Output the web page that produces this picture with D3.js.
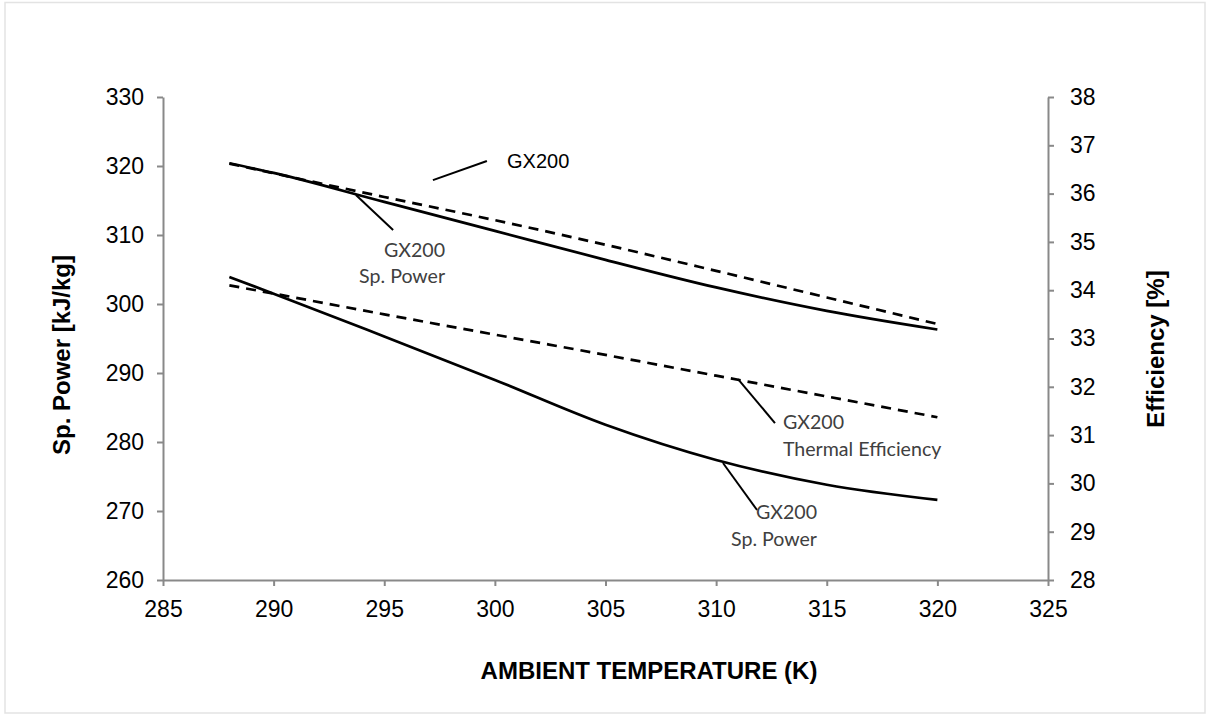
<!DOCTYPE html>
<html>
<head>
<meta charset="utf-8">
<script src="https://cdn.jsdelivr.net/npm/d3@7"></script>
<style>
  html, body { margin: 0; padding: 0; background: #ffffff; }
  svg { display: block; }
</style>
</head>
<body>
<svg id="chart" width="1208" height="716"></svg>
<script>
// Ambient temperature sweep (K)
const temps = [288, 290, 295, 300, 305, 310, 315, 320];

// Specific power [kJ/kg] (left axis) and efficiency [%] (right axis)
const spPowerUpper = [320.4, 319.0, 314.8, 310.6, 306.4, 302.4, 299.0, 296.3];
const effUpper     = [36.62, 36.42, 35.93, 35.45, 34.94, 34.40, 33.85, 33.30];
const spPowerLower = [303.9, 301.5, 295.3, 289.0, 282.5, 277.4, 273.8, 271.6];
const effLower     = [34.10, 33.93, 33.50, 33.08, 32.66, 32.23, 31.80, 31.37];

// Axis ticks
const xTicks = [285, 290, 295, 300, 305, 310, 315, 320, 325];
const leftTicks = [260, 270, 280, 290, 300, 310, 320, 330];
const rightTicks = [28, 29, 30, 31, 32, 33, 34, 35, 36, 37, 38];

// Axis titles
const xTitle = "AMBIENT TEMPERATURE (K)";
const leftTitle = "Sp. Power [kJ/kg]";
const rightTitle = "Efficiency [%]";

const svg = d3.select("#chart");

// outer frame
svg.append("rect")
  .attr("x", 5).attr("y", 2.5).attr("width", 1200).attr("height", 710.5)
  .attr("fill", "#ffffff").attr("stroke", "#e3e3e3").attr("stroke-width", 1.5);

const x = d3.scaleLinear().domain([285, 325]).range([163, 1048]);
const yL = d3.scaleLinear().domain([260, 330]).range([580, 97]);
const yR = d3.scaleLinear().domain([28, 38]).range([580, 97]);

const axisColor = "#898989";
const tickFont = "'Liberation Sans', Arial, sans-serif";

function styleAxis(g) {
  g.select(".domain").attr("stroke", axisColor).attr("stroke-width", 2);
  g.selectAll(".tick line").attr("stroke", axisColor).attr("stroke-width", 2);
  g.selectAll(".tick text")
    .attr("fill", "#000")
    .style("font-family", tickFont)
    .style("font-size", "23px");
}

svg.append("g")
  .attr("transform", `translate(0,${yL(260)})`)
  .call(d3.axisBottom(x).tickValues(xTicks).tickSizeInner(6).tickSizeOuter(0).tickPadding(15).tickFormat(d3.format("d")))
  .call(styleAxis);

svg.append("g")
  .attr("transform", `translate(${x(285)},0)`)
  .call(d3.axisLeft(yL).tickValues(leftTicks).tickSizeInner(6).tickSizeOuter(0).tickPadding(13).tickFormat(d3.format("d")))
  .call(styleAxis);

svg.append("g")
  .attr("transform", `translate(${x(325)},0)`)
  .call(d3.axisRight(yR).tickValues(rightTicks).tickSizeInner(6).tickSizeOuter(0).tickPadding(16).tickFormat(d3.format("d")))
  .call(styleAxis);

// axis titles
const titleStyle = sel => sel
  .attr("fill", "#000")
  .style("font-family", tickFont)
  .style("font-weight", "bold")
  .style("font-size", "24px")
  .attr("text-anchor", "middle");

svg.append("text").attr("x", 649).attr("y", 679).text(xTitle).call(titleStyle);
svg.append("text").attr("transform", "translate(70,355) rotate(-90)").text(leftTitle).call(titleStyle);
svg.append("text").attr("transform", "translate(1164,349) rotate(-90)").text(rightTitle).call(titleStyle);

// series
const series = [
  { values: spPowerUpper, y: yL, dashed: false },
  { values: effUpper,     y: yR, dashed: true },
  { values: spPowerLower, y: yL, dashed: false },
  { values: effLower,     y: yR, dashed: true }
];

series.forEach(s => {
  const line = d3.line()
    .x((d, i) => x(temps[i]))
    .y(d => s.y(d))
    .curve(d3.curveMonotoneX);
  svg.append("path")
    .datum(s.values)
    .attr("d", line)
    .attr("fill", "none")
    .attr("stroke", "#000")
    .attr("stroke-width", 2.7)
    .attr("stroke-dasharray", s.dashed ? "10,7" : null);
});

// callouts: leader line in data coordinates, text block anchored beside it
const callouts = [
  { y: yR, from: [297.2, 36.28], to: [299.64, 36.675], at: [300.55, 36.53], anchor: "start",
    lines: ["GX200"], font: tickFont, size: 20, color: "#000", gap: 0 },
  { y: yL, from: [293.72, 315.8], to: [295.4, 310.72], at: [297.75, 306.81], anchor: "end",
    lines: ["GX200", "Sp. Power"], font: "Lato, sans-serif", size: 19.6, color: "#404040", gap: 26 },
  { y: yR, from: [310.99, 32.16], to: [312.66, 31.25], at: [313.02, 31.13], anchor: "start",
    lines: ["GX200", "Thermal Efficiency"], font: "Lato, sans-serif", size: 19.6, color: "#404040", gap: 27 },
  { y: yL, from: [310.31, 276.96], to: [311.85, 270.14], at: [314.56, 268.84], anchor: "end",
    lines: ["GX200", "Sp. Power"], font: "Lato, sans-serif", size: 19.6, color: "#404040", gap: 27 }
];

callouts.forEach(c => {
  svg.append("line")
    .attr("x1", x(c.from[0])).attr("y1", c.y(c.from[1]))
    .attr("x2", x(c.to[0])).attr("y2", c.y(c.to[1]))
    .attr("stroke", "#000").attr("stroke-width", 2);
  const t = svg.append("text")
    .attr("x", x(c.at[0])).attr("y", c.y(c.at[1]))
    .attr("text-anchor", c.anchor)
    .attr("fill", c.color)
    .style("font-family", c.font)
    .style("font-size", c.size + "px");
  c.lines.forEach((ln, i) => {
    t.append("tspan").attr("x", x(c.at[0])).attr("dy", i === 0 ? 0 : c.gap).text(ln);
  });
});
</script>
</body>
</html>
